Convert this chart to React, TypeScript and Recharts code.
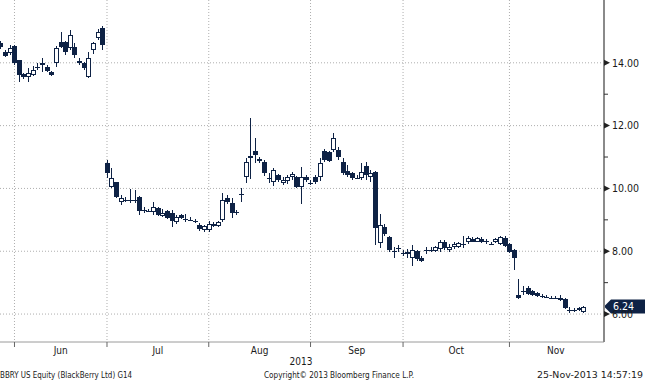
import React from 'react'
import { ComposedChart, Bar, XAxis, YAxis, CartesianGrid, ReferenceLine } from 'recharts'

// BBRY daily OHLC, one entry per trading day from 29-May-2013 to 25-Nov-2013
const opens = [
  14.63, 14.34, 14.31, 14.53, 14.09, 13.64, 13.54, 13.61, 13.86, 13.93, 13.86, 13.7, 13.99, 14.66, 14.66, 14.47, 14.5, 14.0, 13.99, 13.54,
  14.4, 14.79, 15.1, 10.8, 10.04, 10.2, 9.56, 9.64, 9.62, 9.63, 9.72, 9.32, 9.3, 9.25, 9.37, 9.12, 9.27, 9.22, 8.93, 9.15,
  9.02, 9.01, 8.96, 8.83, 8.67, 8.67, 8.88, 8.8, 8.99, 9.69, 9.53, 9.25, 9.8, 10.36, 11.03, 11.2, 10.88, 10.83, 10.33, 10.2,
  10.42, 10.17, 10.23, 10.36, 10.36, 10.04, 10.36, 10.17, 10.36, 10.36, 11.18, 11.15, 11.22, 11.22, 10.83, 10.55, 10.48, 10.36, 10.33, 10.7,
  10.36, 10.52, 8.25, 8.76, 8.44, 8.0, 8.09, 7.94, 7.9, 7.8, 8.0, 7.78, 8.02, 8.05, 8.0, 8.06, 8.28, 8.03, 8.12, 8.15,
  8.22, 8.28, 8.38, 8.31, 8.38, 8.34, 8.25, 8.28, 8.22, 8.41, 8.22, 8.03, 6.6, 6.73, 6.83, 6.73, 6.66, 6.57, 6.55, 6.51,
  6.52, 6.45, 6.47, 6.12, 6.14, 6.19, 6.06,
]
const highs = [
  14.7, 14.4, 14.56, 14.56, 14.1, 13.66, 13.83, 13.9, 13.99, 14.15, 13.93, 13.74, 14.53, 14.98, 14.68, 15.04, 14.63, 14.15, 14.02, 14.34,
  14.66, 15.07, 15.17, 10.9, 10.64, 10.22, 9.78, 9.72, 9.97, 9.94, 9.75, 9.4, 9.33, 9.56, 9.4, 9.35, 9.3, 9.31, 9.15, 9.2,
  9.17, 9.08, 9.02, 8.9, 8.85, 8.96, 8.93, 8.96, 9.85, 9.8, 9.69, 9.31, 10.0, 10.96, 12.23, 11.6, 11.0, 10.9, 10.48, 10.64,
  10.45, 10.35, 10.42, 10.52, 10.39, 10.67, 10.42, 10.26, 10.42, 10.96, 11.27, 11.2, 11.76, 11.31, 10.96, 10.74, 10.52, 10.42, 10.8, 10.83,
  10.6, 10.55, 9.2, 8.86, 8.5, 8.13, 8.19, 8.03, 8.06, 8.19, 8.03, 7.84, 8.12, 8.13, 8.16, 8.35, 8.35, 8.22, 8.28, 8.3,
  8.47, 8.47, 8.44, 8.44, 8.44, 8.38, 8.31, 8.41, 8.5, 8.47, 8.25, 8.06, 7.11, 6.89, 6.9, 6.76, 6.7, 6.63, 6.6, 6.57,
  6.56, 6.6, 6.5, 6.21, 6.19, 6.22, 6.26,
]
const lows = [
  14.45, 14.18, 14.25, 13.93, 13.39, 13.5, 13.39, 13.58, 13.77, 13.7, 13.7, 13.58, 13.86, 14.48, 14.25, 14.4, 14.15, 13.93, 13.77, 13.52,
  14.28, 14.72, 14.4, 10.32, 10.01, 9.69, 9.47, 9.56, 9.55, 9.55, 9.15, 9.22, 9.24, 9.15, 9.12, 9.08, 9.02, 8.77, 8.86, 9.04,
  8.93, 8.95, 8.9, 8.64, 8.62, 8.62, 8.77, 8.77, 8.93, 9.5, 9.05, 9.15, 9.56, 10.16, 10.3, 10.8, 10.8, 10.39, 10.16, 10.07,
  10.2, 10.1, 10.13, 10.26, 10.0, 9.5, 10.2, 10.1, 10.13, 10.23, 10.83, 10.85, 11.15, 10.9, 10.42, 10.36, 10.26, 10.3, 10.26, 10.26,
  10.2, 8.19, 8.1, 8.48, 7.97, 7.77, 7.97, 7.86, 7.8, 7.52, 7.68, 7.65, 7.91, 7.99, 7.96, 7.97, 8.03, 7.97, 8.06, 8.09,
  8.09, 8.22, 8.28, 8.28, 8.25, 8.22, 8.19, 8.25, 8.19, 8.12, 7.94, 7.39, 6.47, 6.6, 6.6, 6.57, 6.53, 6.5, 6.5, 6.47,
  6.47, 6.42, 6.16, 6.02, 6.08, 6.1, 6.04,
]
const closes = [
  14.5, 14.21, 14.47, 13.99, 13.61, 13.54, 13.67, 13.77, 13.87, 13.99, 13.74, 13.61, 14.47, 14.5, 14.34, 14.88, 14.25, 14.05, 13.83, 14.15,
  14.63, 14.98, 14.56, 10.48, 10.32, 9.72, 9.69, 9.62, 9.64, 9.65, 9.27, 9.3, 9.28, 9.4, 9.15, 9.23, 9.05, 8.96, 9.08, 9.06,
  9.01, 8.99, 8.94, 8.71, 8.79, 8.88, 8.8, 8.93, 9.63, 9.56, 9.21, 9.24, 9.82, 10.83, 10.96, 11.06, 10.95, 10.49, 10.32, 10.58,
  10.26, 10.26, 10.36, 10.45, 10.04, 10.36, 10.26, 10.16, 10.2, 10.8, 10.9, 10.88, 11.6, 11.0, 10.48, 10.42, 10.33, 10.33, 10.52, 10.42,
  10.5, 8.73, 8.83, 8.54, 8.03, 8.01, 8.1, 7.95, 7.97, 8.03, 7.75, 7.69, 8.03, 8.06, 8.12, 8.28, 8.09, 8.15, 8.22, 8.25,
  8.21, 8.41, 8.31, 8.41, 8.28, 8.28, 8.24, 8.38, 8.44, 8.16, 7.97, 7.78, 6.52, 6.72, 6.64, 6.6, 6.57, 6.56, 6.54, 6.5,
  6.51, 6.52, 6.19, 6.11, 6.13, 6.13, 6.24,
]

// trading-day index of the first session of each month (Jun..Nov) and of December
const monthStarts = [3, 23, 45, 67, 87, 110, 130]
const monthNames = ['Jun', 'Jul', 'Aug', 'Sep', 'Oct', 'Nov']
const priceTicks = [6, 7, 8, 9, 10, 11, 12, 13, 14]
const labelledTicks = [6, 8, 10, 12, 14]
const lastPrice = 6.24

const NAVY = '#0e2245'
const FONT = "Tahoma, 'DejaVu Sans Condensed', 'Liberation Sans', sans-serif"

const data = opens.map((o, i) => ({ i, open: o, high: highs[i], low: lows[i], close: closes[i] }))
const monthMids = monthNames.map((_, k) => (monthStarts[k] + monthStarts[k + 1]) / 2)
const xTicks = [...monthStarts.slice(0, 6), ...monthMids].sort((a, b) => a - b)

const Candle = (props: any) => {
  const { x, y, width, height, payload } = props
  const { open, high, low, close } = payload
  const top = Math.min(y, y + height)
  const span = Math.abs(height)
  const ppu = span / (high - low)
  const yOf = (v: number) => top + (high - v) * ppu
  const cx = Math.round(x + width / 2) + 0.5
  const bTop = yOf(Math.max(open, close))
  const bBot = yOf(Math.min(open, close))
  const up = close > open

  if (bBot - bTop < 1.5) {
    const ym = Math.round((bTop + bBot) / 2) + 0.5
    return (
      <g shapeRendering="crispEdges">
        <line x1={cx} x2={cx} y1={top} y2={top + span} stroke={NAVY} />
        <line x1={cx - 2.5} x2={cx + 2.5} y1={ym} y2={ym} stroke={NAVY} />
      </g>
    )
  }
  return (
    <g shapeRendering="crispEdges">
      <line x1={cx} x2={cx} y1={top} y2={bTop} stroke={NAVY} />
      <line x1={cx} x2={cx} y1={bBot} y2={top + span} stroke={NAVY} />
      {up ? (
        <rect x={cx - 2} y={bTop + 0.5} width={4} height={bBot - bTop - 1} fill="#fff" stroke={NAVY} />
      ) : (
        <rect x={cx - 2.5} y={bTop} width={5} height={bBot - bTop} fill={NAVY} />
      )}
    </g>
  )
}

const PriceTick = (props: any) => {
  const { x, y, payload } = props
  const v = payload.value
  if (labelledTicks.includes(v)) {
    return (
      <g>
        <path d={`M${x},${y - 3} L${x + 6},${y} L${x},${y + 3} Z`} fill="#222" />
        <text x={x + 8} y={y} dy="0.36em" fontSize={10.5} fontFamily={FONT} fill="#1a1a1a">
          {v.toFixed(2)}
        </text>
      </g>
    )
  }
  return <line x1={x} x2={x + 4} y1={y} y2={y} stroke="#333" />
}

const MonthTick = (props: any) => {
  const { x, y, payload } = props
  const k = monthMids.indexOf(payload.value)
  if (k >= 0) {
    return (
      <text x={x} y={y + 12} textAnchor="middle" fontSize={10} fontFamily={FONT} fill="#1a1a1a">
        {monthNames[k]}
      </text>
    )
  }
  return <line x1={x} x2={x} y1={y} y2={y + 5} stroke="#666" />
}

const PriceTag = (props: any) => {
  const { viewBox } = props
  const x = viewBox.x + viewBox.width
  const y = viewBox.y
  return (
    <g>
      <path d={`M${x},${y} L${x + 7},${y - 7} L645,${y - 7} L645,${y + 7} L${x + 7},${y + 7} Z`} fill={NAVY} />
      <text x={x + 9} y={y} dy="0.36em" fontSize={10.5} fontFamily={FONT} fill="#fff">
        {lastPrice.toFixed(2)}
      </text>
    </g>
  )
}

const footText = { fontFamily: FONT, fontSize: 9.5, fill: '#1a1a1a', lengthAdjust: 'spacingAndGlyphs' as const }

export default function App() {
  return (
    <div style={{ position: 'absolute', left: 0, top: 0, width: 645, height: 380, background: '#fff' }}>
      <ComposedChart width={645} height={380} data={data} margin={{ top: 0, right: 0, bottom: 0, left: 0 }}>
        <CartesianGrid
          horizontalValues={labelledTicks}
          verticalValues={monthStarts.slice(0, 6)}
          stroke="#aeaeae"
          strokeDasharray="1 2"
        />
        <XAxis
          dataKey="i"
          type="number"
          domain={[-0.13, 130.44]}
          allowDataOverflow
          ticks={xTicks}
          interval={0}
          height={38}
          tickSize={0}
          tickMargin={0}
          tickLine={false}
          axisLine={{ stroke: '#9a9a9a' }}
          tick={<MonthTick />}
        />
        <YAxis
          orientation="right"
          type="number"
          domain={[5.11, 16]}
          allowDataOverflow
          ticks={priceTicks}
          interval={0}
          width={41}
          tickSize={0}
          tickMargin={0}
          tickLine={false}
          axisLine={{ stroke: '#8a8a8a', strokeWidth: 2 }}
          tick={<PriceTick />}
        />
        <Bar
          dataKey={(d: any) => [d.low, d.high]}
          barSize={5}
          shape={(p: any) => <Candle {...p} />}
          isAnimationActive={false}
        />
        <ReferenceLine y={lastPrice} stroke="none" ifOverflow="visible" label={(p: any) => <PriceTag {...p} />} />
      </ComposedChart>
      <svg width={645} height={380} style={{ position: 'absolute', left: 0, top: 0, pointerEvents: 'none' }}>
        <text x={301} y={365} textAnchor="middle" {...footText} fontSize={10}>2013</text>
        <text x={0} y={378} textLength={132} {...footText}>BBRY US Equity (BlackBerry Ltd) G14</text>
        <text x={264} y={378} textLength={150} {...footText}>Copyright© 2013 Bloomberg Finance L.P.</text>
        <text x={537} y={378} textLength={106} {...footText}>25-Nov-2013 14:57:19</text>
      </svg>
    </div>
  )
}
